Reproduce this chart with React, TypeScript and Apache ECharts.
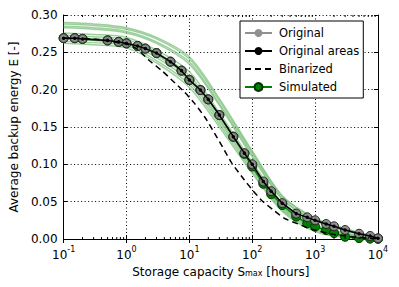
import React, { useEffect, useRef } from "react";
import * as echarts from "echarts";

// Storage capacity S_max [hours] for the marker curves
const X_POINTS = [0.1, 0.15, 0.2, 0.5, 0.75, 1, 1.5, 2, 3, 5, 7.5, 10, 15, 20, 30, 50, 75, 100, 150, 200, 300, 500, 750, 1000, 1500, 2000, 3000, 5000, 7500, 10000];
const ORIGINAL = [0.269, 0.269, 0.268, 0.266, 0.264, 0.262, 0.2585, 0.255, 0.249, 0.2375, 0.2255, 0.213, 0.1995, 0.187, 0.166, 0.137, 0.115, 0.1, 0.077, 0.064, 0.048, 0.034, 0.029, 0.025, 0.02, 0.017, 0.012, 0.007, 0.004, 0.001];
const ORIGINAL_AREAS = [0.269, 0.269, 0.268, 0.266, 0.264, 0.262, 0.2585, 0.255, 0.249, 0.2375, 0.2255, 0.213, 0.1995, 0.187, 0.166, 0.137, 0.115, 0.1, 0.077, 0.064, 0.048, 0.034, 0.029, 0.025, 0.02, 0.017, 0.012, 0.007, 0.004, 0.001];
const SIMULATED = [0.269, 0.269, 0.268, 0.266, 0.264, 0.262, 0.2585, 0.255, 0.249, 0.2375, 0.2255, 0.213, 0.1995, 0.187, 0.166, 0.137, 0.114, 0.097, 0.074, 0.06, 0.0455, 0.03, 0.021, 0.0165, 0.012, 0.008, 0.003, 0.0012, 0.0005, 0.0002];

// Binarized curve
const X_BIN = [0.1, 0.3, 1, 1.5, 2.3, 3.7, 5.4, 8.3, 12, 18, 25, 36, 47, 75, 100, 140, 215, 320, 540, 850, 2000, 5000, 10000];
const BINARIZED = [0.269, 0.268, 0.261, 0.254, 0.239, 0.225, 0.212, 0.197, 0.182, 0.162, 0.142, 0.119, 0.102, 0.079, 0.066, 0.052, 0.039, 0.028, 0.02, 0.0134, 0.006, 0.002, 0.0];

// Ensemble of simulated runs (thin light-green lines)
const X_ENS = [0.1, 0.3, 1, 3, 10, 30, 100, 300, 1000, 3000, 10000];
const ENS_1 = [0.29, 0.288, 0.283, 0.27, 0.244, 0.188, 0.118, 0.058, 0.028, 0.014, 0.002];
const ENS_2 = [0.288, 0.286, 0.281, 0.268, 0.241, 0.185, 0.116, 0.057, 0.027, 0.013, 0.002];
const ENS_3 = [0.285, 0.283, 0.278, 0.264, 0.237, 0.181, 0.113, 0.054, 0.025, 0.012, 0.002];
const ENS_4 = [0.283, 0.281, 0.276, 0.262, 0.234, 0.179, 0.11, 0.053, 0.024, 0.011, 0.001];
const ENS_5 = [0.276, 0.274, 0.27, 0.253, 0.224, 0.169, 0.103, 0.048, 0.019, 0.008, 0.001];
const ENS_6 = [0.273, 0.271, 0.267, 0.25, 0.219, 0.165, 0.1, 0.045, 0.017, 0.007, 0.001];
const ENS_7 = [0.27, 0.268, 0.264, 0.246, 0.215, 0.161, 0.097, 0.043, 0.015, 0.006, 0.001];
const ENS_8 = [0.268, 0.266, 0.261, 0.243, 0.211, 0.158, 0.094, 0.041, 0.014, 0.004, 0.0];
const ENS_9 = [0.265, 0.263, 0.259, 0.239, 0.207, 0.154, 0.091, 0.039, 0.012, 0.003, 0.0];
const ENS_10 = [0.262, 0.26, 0.256, 0.236, 0.203, 0.15, 0.088, 0.037, 0.01, 0.002, 0.0];
const ENSEMBLE = [ENS_1, ENS_2, ENS_3, ENS_4, ENS_5, ENS_6, ENS_7, ENS_8, ENS_9, ENS_10];

// Axis ticks
const Y_TICKS_INTERVAL = 0.05;
const X_MINOR_TICKS = [0.2, 0.3, 0.4, 0.5, 0.6, 0.7, 0.8, 0.9, 2, 3, 4, 5, 6, 7, 8, 9, 20, 30, 40, 50, 60, 70, 80, 90, 200, 300, 400, 500, 600, 700, 800, 900, 2000, 3000, 4000, 5000, 6000, 7000, 8000, 9000];

const FONT = "DejaVu Sans";

const zip = (xs: number[], ys: number[]) => xs.map((x, i) => [x, ys[i]]);

export default function App() {
  const ref = useRef<HTMLDivElement>(null);
  useEffect(() => {
    if (!ref.current) return;
    const chart = echarts.init(ref.current, null, { renderer: "svg" });

    const ensembleSeries = ENSEMBLE.map((arr, i) => ({
      name: "run" + i,
      type: "line",
      data: zip(X_ENS, arr),
      showSymbol: false,
      symbol: "none",
      smooth: 0.3,
      silent: true,
      lineStyle: { color: "#7cbf7c", width: 1.5, opacity: 0.75 },
      z: 1,
    }));

    const option: any = {
      animation: false,
      textStyle: { fontFamily: FONT },
      grid: { left: 60, right: 21, top: 15, bottom: 48 },
      legend: {
        data: [
          { name: "Original" },
          { name: "Original areas" },
          { name: "Binarized", itemStyle: { opacity: 0 } },
          { name: "Simulated" },
        ],
        orient: "vertical",
        left: 240,
        top: 21,
        padding: [5, 4, 4, 4],
        itemWidth: 27,
        itemHeight: 10,
        itemGap: 4,
        borderColor: "#000",
        borderWidth: 1,
        borderRadius: 0,
        backgroundColor: "#fff",
        textStyle: { fontFamily: FONT, fontSize: 11.5, color: "#000", lineHeight: 14, padding: [0, 0, 0, 2] },
        selectedMode: false,
      },
      xAxis: [
        {
          type: "log",
          logBase: 10,
          min: 0.1,
          max: 10000,
          name: "Storage capacity S{sub|max} [hours]",
          nameLocation: "middle",
          nameGap: 23,
          nameTextStyle: {
            fontFamily: FONT,
            fontSize: 12,
            color: "#000",
            rich: { sub: { fontSize: 8, verticalAlign: "bottom", padding: [4, 0, 0, 0], fontFamily: FONT, color: "#000" } },
          },
          axisLine: { show: true, lineStyle: { color: "#000", width: 1 } },
          axisTick: { show: true, inside: true, length: 4, lineStyle: { color: "#000" } },
          splitLine: { show: true, lineStyle: { color: "#000", width: 1, type: [1, 2.5] } },
          axisLabel: {
            margin: 6,
            fontFamily: FONT,
            color: "#000",
            formatter: (v: number) => `{b|10}{s|${Math.round(Math.log10(v))}}`,
            rich: {
              b: { fontSize: 12, fontFamily: FONT, color: "#000", lineHeight: 16, verticalAlign: "bottom" },
              s: { fontSize: 8, fontFamily: FONT, color: "#000", lineHeight: 16, verticalAlign: "top" },
            },
          },
        },
        {
          type: "log",
          logBase: 10,
          min: 0.1,
          max: 10000,
          position: "top",
          axisLine: { show: true, lineStyle: { color: "#000", width: 1 } },
          axisTick: { show: true, inside: true, length: 4, lineStyle: { color: "#000" } },
          axisLabel: { show: false },
          splitLine: { show: false },
        },
      ],
      yAxis: [
        {
          type: "value",
          min: 0,
          max: 0.3,
          interval: Y_TICKS_INTERVAL,
          name: "Average backup energy E [-]",
          nameLocation: "middle",
          nameGap: 38,
          nameTextStyle: { fontFamily: FONT, fontSize: 12, color: "#000" },
          axisLine: { show: true, lineStyle: { color: "#000", width: 1 } },
          axisTick: { show: true, inside: true, length: 4, lineStyle: { color: "#000" } },
          splitLine: { show: true, lineStyle: { color: "#000", width: 1, type: [1, 2.5] } },
          axisLabel: {
            margin: 6,
            fontFamily: FONT,
            fontSize: 12,
            color: "#000",
            formatter: (v: number) => v.toFixed(2),
          },
        },
        {
          type: "value",
          min: 0,
          max: 0.3,
          interval: Y_TICKS_INTERVAL,
          position: "right",
          axisLine: { show: true, lineStyle: { color: "#000", width: 1 } },
          axisTick: { show: true, inside: true, length: 4, lineStyle: { color: "#000" } },
          axisLabel: { show: false },
          splitLine: { show: false },
        },
      ],
      series: [
        ...ensembleSeries,
        {
          name: "minorTicks",
          type: "custom",
          silent: true,
          data: X_MINOR_TICKS.map((v) => [v, 0]),
          encode: { x: 0, y: 1 },
          renderItem: (params: any, api: any) => {
            const x = api.coord([api.value(0), 0])[0];
            const cs = params.coordSys;
            const bottom = cs.y + cs.height;
            return {
              type: "group",
              children: [
                { type: "line", shape: { x1: x, y1: bottom, x2: x, y2: bottom - 2 }, style: { stroke: "#000", lineWidth: 1 } },
                { type: "line", shape: { x1: x, y1: cs.y, x2: x, y2: cs.y + 2 }, style: { stroke: "#000", lineWidth: 1 } },
              ],
            };
          },
          z: 5,
        },
        {
          name: "Simulated",
          type: "line",
          data: zip(X_POINTS, SIMULATED),
          symbol: "circle",
          symbolSize: 9,
          lineStyle: { color: "#008000", width: 1.5 },
          itemStyle: { color: "#008000", borderColor: "#003300", borderWidth: 1 },
          z: 3,
        },
        {
          name: "Original markers",
          type: "line",
          data: zip(X_POINTS, ORIGINAL),
          symbol: "circle",
          symbolSize: 9,
          lineStyle: { width: 0, opacity: 0 },
          itemStyle: { color: "rgba(128,128,128,0.85)", borderColor: "#222", borderWidth: 1 },
          z: 4,
        },
        {
          name: "Original",
          type: "line",
          data: zip(X_POINTS, ORIGINAL),
          symbol: "circle",
          symbolSize: 6,
          lineStyle: { color: "#909090", width: 1.5 },
          itemStyle: { color: "#909090" },
          z: 4,
        },
        {
          name: "Original areas",
          type: "line",
          data: zip(X_POINTS, ORIGINAL_AREAS),
          symbol: "circle",
          symbolSize: 3.5,
          lineStyle: { color: "#000", width: 1.5 },
          itemStyle: { color: "#000" },
          z: 5,
        },
        {
          name: "Binarized",
          type: "line",
          data: zip(X_BIN, BINARIZED),
          symbol: "none",
          smooth: 0.2,
          lineStyle: { color: "#000", width: 1.5, type: [6, 4] },
          itemStyle: { color: "#000" },
          z: 5,
        },
      ],
    };
    chart.setOption(option);
    return () => chart.dispose();
  }, []);
  return <div ref={ref} style={{ width: 399, height: 287, position: "absolute", left: 0, top: 0 }} />;
}
